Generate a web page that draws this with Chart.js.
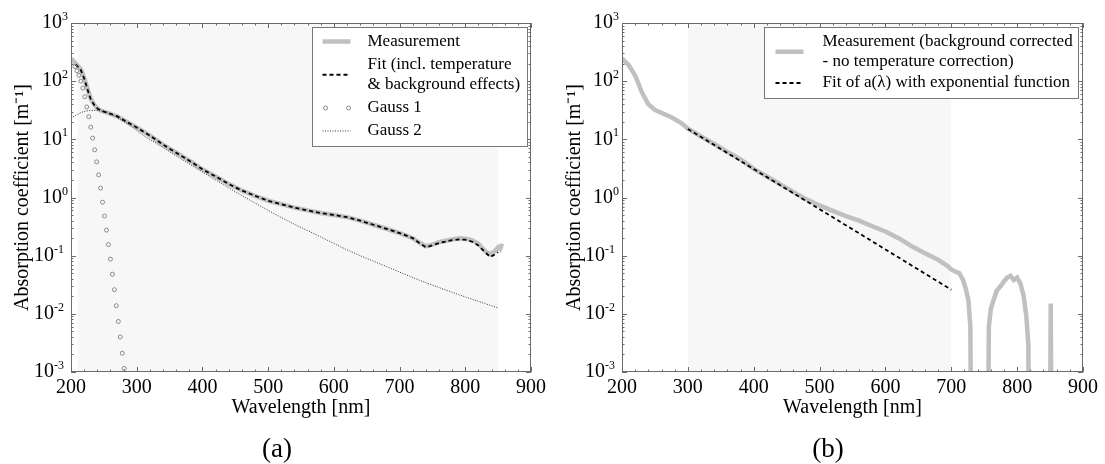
<!DOCTYPE html>
<html>
<head>
<meta charset="utf-8">
<script src="https://cdn.jsdelivr.net/npm/chart.js@4.4.1/dist/chart.umd.min.js"></script>
<style>
  body { margin: 0; background: #fff; width: 1105px; height: 464px; position: relative; overflow: hidden;
         font-family: 'Liberation Serif', 'Times New Roman', serif; }
  .panel { position: absolute; top: 0; }
  .cap { position: absolute; top: 433px; width: 200px; text-align: center; font-size: 27px; line-height: 30px; color: #000; }
</style>
</head>
<body>
<canvas id="chartA" class="panel" style="left:0" width="552" height="464"></canvas>
<canvas id="chartB" class="panel" style="left:552px" width="553" height="464"></canvas>
<div class="cap" style="left:177px">(a)</div>
<div class="cap" style="left:728px">(b)</div>
<script>
// --- valores ---
// (a) medición
const measA_nm = [200, 205, 210, 215, 220, 225, 230, 235, 240, 245, 250, 260, 270, 280, 290, 300, 320, 340, 360, 380,
                  400, 420, 440, 460, 480, 500, 520, 540, 560, 580, 600, 620, 640, 660, 680, 700, 720, 730, 740, 750,
                  760, 780, 790, 800, 810, 820, 830, 838, 845, 850, 853, 856];
const measA = [245, 215, 185, 160, 115, 75, 50, 40, 34, 31.5, 30, 27.5, 25, 21.5, 18.5, 16, 11.6, 8.1, 5.9, 4.3,
               3.05, 2.3, 1.7, 1.32, 1.07, 0.88, 0.77, 0.67, 0.6, 0.54, 0.5, 0.46, 0.4, 0.34, 0.29, 0.245, 0.2, 0.168, 0.145, 0.155,
               0.17, 0.19, 0.2, 0.195, 0.185, 0.16, 0.12, 0.105, 0.12, 0.14, 0.13, 0.16];
// (a) ajuste
const fitA_nm = [207, 210, 215, 220, 225, 230, 235, 240, 245, 250, 260, 270, 280, 290, 300, 320, 340, 360, 380, 400,
                 420, 440, 460, 480, 500, 520, 540, 560, 580, 600, 620, 640, 660, 680, 700, 720, 730, 740, 750, 760,
                 780, 790, 800, 810, 820, 830, 838, 845, 850];
const fitA = [195, 180, 155, 112, 73, 49, 39.5, 34, 31.5, 30, 27.5, 25, 21.5, 18.5, 16, 11.6, 8.1, 5.9, 4.3, 3.05,
              2.3, 1.7, 1.32, 1.07, 0.88, 0.77, 0.67, 0.6, 0.54, 0.5, 0.46, 0.4, 0.34, 0.29, 0.245, 0.2, 0.165, 0.14, 0.15, 0.165,
              0.185, 0.19, 0.188, 0.175, 0.15, 0.115, 0.095, 0.105, 0.115];
// (a) Gauss 1
const gauss1_nm = [206, 209, 212, 215, 218, 221, 224, 227, 230, 233, 236, 239, 242, 245, 248, 251, 254, 257, 260,
                   263, 266, 269, 272, 275, 278, 281];
const gauss1 = [178, 151, 126, 100, 76, 54, 36, 24.5, 16.2, 10.5, 6.6, 4.1, 2.45, 1.45, 0.83, 0.48, 0.275, 0.155, 0.087,
                0.048, 0.026, 0.0138, 0.0074, 0.004, 0.0021, 0.00115];
// (a) Gauss 2
const gauss2_nm = [200, 210, 220, 235, 250, 270, 290, 310, 330, 360, 400, 450, 500, 533, 580, 620, 680, 730, 790, 850];
const gauss2 = [23, 27, 30, 31.6, 30, 24, 17.4, 11.7, 8.5, 5.2, 2.75, 1.26, 0.6, 0.38, 0.21, 0.126, 0.065, 0.038, 0.0214, 0.0126];

// (b) medición corregida (1e-6 = por debajo del eje)
const measB_nm = [200, 210, 220, 230, 240, 250, 260, 275, 290, 300, 320, 340, 360, 380, 400, 420, 440, 460, 480, 500,
                  520, 540, 560, 580, 600, 620, 640, 660, 680, 693, 700, 708, 712, 718, 722, 726, 729, 731, 755, 757,
                  760, 764, 769, 775, 780, 785, 790, 795, 800, 805, 810, 814, 817, 819, 849, 851, 853, 860];
const measB = [245, 190, 125, 65, 40, 32, 28.5, 24, 19, 15.3, 11.2, 8.3, 6.1, 4.5, 3.1, 2.3, 1.7, 1.25, 0.93, 0.73,
               0.59, 0.48, 0.4, 0.32, 0.26, 0.2, 0.145, 0.11, 0.085, 0.068, 0.058, 0.052, 0.05, 0.038, 0.027, 0.017, 0.006, 1e-6, 1e-6, 0.006,
               0.012, 0.017, 0.025, 0.03, 0.036, 0.042, 0.045, 0.038, 0.042, 0.033, 0.02, 0.009, 0.003, 1e-6, 1e-6, 0.015, 1e-6, 1e-6];
// (b) ajuste exponencial
const fitB_nm = [300, 400, 500, 600, 700];
const fitB = [15.1, 3.08, 0.63, 0.128, 0.026];

const xTicks = [200, 300, 400, 500, 600, 700, 800, 900];
const yExponents = [-3, -2, -1, 0, 1, 2, 3];
const shadeA = [210, 850];
const shadeB = [300, 700];

const SERIF = "'Liberation Serif', 'Times New Roman', serif";

function pts(xs, ys) {
    return xs.map((x, i) => ({ x: x, y: ys[i] }));
}

function drawSample(ctx, ds, xa, xb, y) {
    ctx.save();
    if (ds.showLine === false) {
        ctx.strokeStyle = ds.pointBorderColor;
        ctx.lineWidth = 1;
        [xa + 3, xb - 2].forEach(cx => {
            ctx.beginPath();
            ctx.arc(cx, y, ds.pointRadius, 0, Math.PI * 2);
            ctx.stroke();
        });
    } else {
        ctx.strokeStyle = ds.borderColor;
        ctx.lineWidth = ds.borderWidth;
        ctx.setLineDash(ds.borderDash || []);
        ctx.beginPath();
        ctx.moveTo(xa, y);
        ctx.lineTo(xb, y);
        ctx.stroke();
    }
    ctx.restore();
}

// fondo sombreado, marco, marcas, etiquetas 10^n y leyenda
const framePlugin = {
    id: 'frame',
    beforeDatasetsDraw(chart, args, opts) {
        const { ctx, chartArea: a, scales: { x } } = chart;
        const x0 = x.getPixelForValue(opts.shade[0]);
        const x1 = x.getPixelForValue(opts.shade[1]);
        ctx.save();
        ctx.fillStyle = '#f7f7f7';
        ctx.fillRect(x0, a.top, x1 - x0, a.bottom - a.top);
        ctx.restore();
    },
    afterDraw(chart, args, opts) {
        const { ctx, chartArea: a, scales: { x, y } } = chart;
        ctx.save();
        ctx.strokeStyle = '#6a6a6a';
        ctx.lineWidth = 1;
        ctx.strokeRect(Math.round(a.left) + 0.5, Math.round(a.top) + 0.5,
                       Math.round(a.right - a.left) - 1, Math.round(a.bottom - a.top) - 1);
        ctx.beginPath();
        for (let v = x.min; v <= x.max; v += 20) {
            const px = Math.round(x.getPixelForValue(v)) + 0.5;
            const len = v % 100 === 0 ? 5 : 2.5;
            ctx.moveTo(px, a.bottom); ctx.lineTo(px, a.bottom - len);
            ctx.moveTo(px, a.top); ctx.lineTo(px, a.top + len);
        }
        for (let e = -3; e < 3; e++) {
            for (let m = 1; m < 10; m++) {
                const py = Math.round(y.getPixelForValue(m * Math.pow(10, e))) + 0.5;
                const len = m === 1 ? 5 : 2.5;
                ctx.moveTo(a.left, py); ctx.lineTo(a.left + len, py);
                ctx.moveTo(a.right, py); ctx.lineTo(a.right - len, py);
            }
        }
        ctx.stroke();

        // etiquetas del eje y
        ctx.fillStyle = '#000';
        ctx.textAlign = 'left';
        yExponents.forEach(p => {
            const py = y.getPixelForValue(Math.pow(10, p));
            const sup = String(p);
            ctx.font = '20px ' + SERIF;
            const wb = ctx.measureText('10').width;
            ctx.font = '12px ' + SERIF;
            const ws = ctx.measureText(sup).width;
            const start = a.left - 3 - ws - (p < 0 ? 4 : 0) - wb;
            ctx.font = '20px ' + SERIF;
            ctx.textBaseline = 'middle';
            ctx.fillText('10', start, py);
            ctx.font = '12px ' + SERIF;
            ctx.textBaseline = 'alphabetic';
            ctx.fillText(sup, start + wb, py - 3);
        });

        // leyenda
        const L = opts.legend;
        const bx = Math.round(a.right - L.right - L.w) + 0.5;
        const by = Math.round(a.top + L.top) + 0.5;
        ctx.fillStyle = '#fff';
        ctx.fillRect(bx, by, L.w, L.h);
        ctx.strokeStyle = '#777';
        ctx.strokeRect(bx, by, L.w, L.h);
        let cy = by + L.first;
        L.items.forEach(idx => {
            const ds = chart.data.datasets[idx];
            const lines = ds.label.split('\n');
            drawSample(ctx, ds, bx + L.sx0, bx + L.sx1, cy + (lines.length - 1) * L.lineH / 2);
            ctx.font = '17px ' + SERIF;
            ctx.fillStyle = '#000';
            ctx.textBaseline = 'middle';
            lines.forEach((t, k) => ctx.fillText(t, bx + L.tx, cy + k * L.lineH));
            cy += lines.length * L.lineH + L.gap;
        });
        ctx.restore();
    }
};

function makeScales(yWidth) {
    return {
        x: {
            type: 'linear', min: 200, max: 900,
            afterBuildTicks: s => { s.ticks = xTicks.map(v => ({ value: v })); },
            afterFit: s => { s.height = 48; },
            grid: { display: false, drawTicks: false },
            border: { display: false },
            ticks: { color: '#000', font: { family: SERIF, size: 20 }, padding: 4, maxRotation: 0 },
            title: { display: true, text: 'Wavelength [nm]', color: '#000',
                     font: { family: SERIF, size: 20 }, padding: 0 }
        },
        y: {
            type: 'logarithmic', min: 1e-3, max: 1e3,
            afterFit: s => { s.width = yWidth; },
            grid: { display: false, drawTicks: false },
            border: { display: false },
            ticks: { display: false },
            title: { display: true, text: 'Absorption coefficient [m\u207B\u00B9]', color: '#000',
                     font: { family: SERIF, size: 20 }, padding: { top: 11, bottom: 0 } }
        }
    };
}

const chartA = new Chart(document.getElementById('chartA'), {
    type: 'line',
    data: {
        datasets: [
            { label: 'Measurement', data: pts(measA_nm, measA), borderColor: '#c0c0c0', borderWidth: 4.5,
              pointRadius: 0, order: 3 },
            { label: 'Fit (incl. temperature\n& background effects)', data: pts(fitA_nm, fitA), borderColor: '#000',
              borderWidth: 1.8, borderDash: [4, 3], pointRadius: 0, order: 1 },
            { label: 'Gauss 1', data: pts(gauss1_nm, gauss1), showLine: false, pointRadius: 2,
              pointBorderColor: '#8a8a8a', pointBackgroundColor: 'rgba(255,255,255,0)', pointBorderWidth: 1, order: 0 },
            { label: 'Gauss 2', data: pts(gauss2_nm, gauss2), borderColor: '#333', borderWidth: 1,
              borderDash: [1, 1.5], pointRadius: 0, cubicInterpolationMode: 'monotone', order: 2 }
        ]
    },
    options: {
        responsive: false,
        animation: false,
        layout: { padding: { left: 0, top: 23, right: 21, bottom: 44 } },
        scales: makeScales(71),
        plugins: {
            legend: { display: false },
            tooltip: { enabled: false },
            frame: {
                shade: shadeA,
                legend: { right: 4, top: 4, w: 215, h: 119, first: 14, lineH: 20.5, gap: 2.5,
                          sx0: 10, sx1: 38, tx: 55, items: [0, 1, 2, 3] }
            }
        }
    },
    plugins: [framePlugin]
});

const chartB = new Chart(document.getElementById('chartB'), {
    type: 'line',
    data: {
        datasets: [
            { label: 'Measurement (background corrected\n- no temperature correction)', data: pts(measB_nm, measB),
              borderColor: '#c0c0c0', borderWidth: 4.5, pointRadius: 0, order: 2 },
            { label: 'Fit of a(\u03BB) with exponential function', data: pts(fitB_nm, fitB), borderColor: '#000',
              borderWidth: 1.8, borderDash: [4, 3], pointRadius: 0, order: 1 }
        ]
    },
    options: {
        responsive: false,
        animation: false,
        layout: { padding: { left: 0, top: 23, right: 22, bottom: 44 } },
        scales: makeScales(70),
        plugins: {
            legend: { display: false },
            tooltip: { enabled: false },
            frame: {
                shade: shadeB,
                legend: { right: 5, top: 4, w: 314, h: 71, first: 14, lineH: 20.5, gap: 0.5,
                          sx0: 11, sx1: 39, tx: 58, items: [0, 1] }
            }
        }
    },
    plugins: [framePlugin]
});
</script>
</body>
</html>
